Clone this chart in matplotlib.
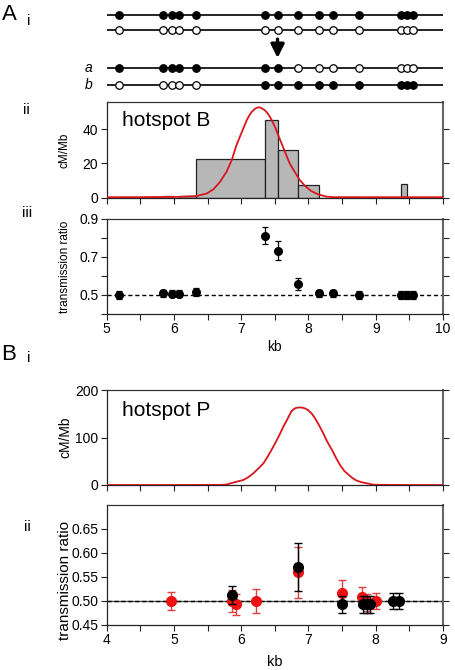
import numpy as np
import matplotlib
matplotlib.use("Agg")
import matplotlib.pyplot as plt
from matplotlib.ticker import MultipleLocator, NullFormatter

plt.rcParams['font.family'] = ['Liberation Sans', 'DejaVu Sans']

# ---------------- data ----------------
# SNP positions (kb) for hotspot B
snp_kb = [5.18, 5.83, 5.97, 6.07, 6.33, 7.36, 7.54, 7.84, 8.16, 8.36, 8.75, 9.38, 9.47, 9.55]
# strand haplotypes (1 = filled, 0 = open)
strand_top = [1] * 14
strand_bot = [0] * 14
strand_a = [1, 1, 1, 1, 1, 1, 1, 0, 0, 0, 0, 0, 0, 0]
strand_b = [0, 0, 0, 0, 0, 1, 1, 1, 1, 1, 1, 1, 1, 1]

# crossover density histogram between adjacent SNPs (cM/Mb)
hist_B = [0.5, 0.8, 0.0, 0.8, 22.3, 45.5, 27.7, 7.3, 0.0, 0.5, 0.0, 8.0, 0.0]

# fitted curve hotspot B
curveB_kb = [5.0, 5.5, 6.09, 6.34, 6.49, 6.59, 6.68, 6.78, 6.86, 6.93, 7.01, 7.08, 7.12, 7.155,
             7.20, 7.23, 7.26, 7.28, 7.31, 7.35, 7.39, 7.43, 7.50, 7.58, 7.65, 7.72, 7.80, 7.87,
             7.95, 8.04, 8.14, 8.27, 8.37, 9.0, 10.0]
curveB_val = [0.3, 0.3, 0.5, 1.0, 2.5, 5.0, 9.0, 15.0, 22.0, 30.7, 38.4, 45.0, 48.0, 50.0,
              51.7, 52.4, 52.7, 52.6, 52.0, 51.0, 49.3, 47.0, 41.4, 33.6, 26.8, 20.0, 14.8, 10.3,
              6.8, 3.9, 2.0, 0.6, 0.3, 0.3, 0.3]

# transmission ratio, hotspot B
trB = [0.50, 0.508, 0.507, 0.507, 0.515, 0.81, 0.733, 0.557, 0.508, 0.508, 0.50, 0.50, 0.50, 0.50]
trB_err = [0.02, 0.02, 0.02, 0.02, 0.02, 0.045, 0.048, 0.03, 0.02, 0.02, 0.02, 0.02, 0.02, 0.02]

# fitted curve hotspot P
curveP_kb = [4.0, 5.0, 5.70, 5.78, 5.88, 5.96, 6.03, 6.10, 6.18, 6.25, 6.33, 6.39, 6.45, 6.52,
             6.58, 6.63, 6.68, 6.72, 6.75, 6.79, 6.82, 6.87, 6.92, 6.96, 7.00, 7.05, 7.10, 7.16,
             7.22, 7.28, 7.35, 7.41, 7.47, 7.53, 7.60, 7.66, 7.72, 7.80, 7.87, 7.97, 8.5, 9.0]
curveP_val = [0, 0, 0.3, 1, 5, 8, 10.5, 16, 24.6, 34, 45.6, 59, 73.7, 92,
              108.8, 124, 136.8, 148, 155.8, 160.5, 162.5, 163.3, 162.5, 160.5, 157, 150, 140, 125,
              108.8, 91, 73.7, 57, 42, 30, 21, 14, 9, 5.5, 3.5, 0.5, 0, 0]

# transmission ratio, hotspot P (red and black series)
trP_red_kb = [4.96, 5.86, 5.92, 6.22, 6.84, 7.50, 7.79, 7.87, 8.00]
trP_red = [0.50, 0.50, 0.493, 0.50, 0.560, 0.516, 0.509, 0.497, 0.50]
trP_red_err = [0.018, 0.022, 0.022, 0.025, 0.053, 0.028, 0.02, 0.018, 0.016]
trP_blk_kb = [5.87, 6.84, 7.50, 7.81, 7.87, 7.91, 8.25, 8.35]
trP_blk = [0.5125, 0.571, 0.493, 0.493, 0.493, 0.493, 0.50, 0.50]
trP_blk_err = [0.019, 0.05, 0.018, 0.018, 0.018, 0.018, 0.016, 0.016]

# ---------------- layout ----------------
W, H = 456, 670
fig = plt.figure(figsize=(W / 100, H / 100), dpi=100)


def ax_px(left, top, right, bottom):
    return fig.add_axes([left / W, 1 - bottom / H, (right - left) / W, (bottom - top) / H])


L, R = 106.7, 443.0
RED = '#d8161b'


def style(ax):
    for s in ['left', 'bottom']:
        ax.spines[s].set_color('#222222')
        ax.spines[s].set_linewidth(0.9)
    ax.spines['top'].set_color('#333333')
    ax.spines['top'].set_linewidth(0.9)
    ax.spines['right'].set_color('#666666')
    ax.spines['right'].set_linewidth(1.5)
    ax.tick_params(axis='both', which='both', direction='out', length=4, width=0.8,
                   labelsize=10, pad=2, right=True, color='#222222')


# ----- A i: strand diagram -----
axd = ax_px(L, 5, R, 95)
axd.set_xlim(5, 10)
axd.set_ylim(95, 5)
axd.axis('off')
for yline, states in [(15, strand_top), (30, strand_bot), (68, strand_a), (85, strand_b)]:
    axd.plot([5, 10], [yline, yline], color='black', lw=1.2, zorder=1)
    for x, st in zip(snp_kb, states):
        axd.plot(x, yline, 'o', ms=5.4, mec='black', mew=0.9,
                 mfc='black' if st else 'white', zorder=3)
axd.annotate('', xy=(snp_kb[6], 58), xytext=(snp_kb[6], 39),
             arrowprops=dict(arrowstyle='-|>,head_width=0.4,head_length=0.8',
                             color='black', lw=2.4, shrinkA=0, shrinkB=0))

# ----- A ii: histogram + curve -----
ax1 = ax_px(L, 102, R, 197.7)
style(ax1)
lefts = snp_kb[:-1]
widths = np.diff(snp_kb)
ax1.bar(lefts, hist_B, width=widths, align='edge', color='#b7b7b7',
        edgecolor='#222222', linewidth=0.9, zorder=2)
ax1.plot(curveB_kb, curveB_val, color=RED, lw=1.3, zorder=3)
ax1.set_xlim(5, 10)
ax1.set_ylim(0, 55.8)
ax1.yaxis.set_major_locator(MultipleLocator(20))
ax1.xaxis.set_major_locator(MultipleLocator(1))
ax1.xaxis.set_minor_locator(MultipleLocator(0.5))
ax1.xaxis.set_major_formatter(NullFormatter())
ax1.set_ylabel('cM/Mb', fontsize=8.5)
ax1.yaxis.set_label_coords((71 - L) / (R - L), 0.5)
ax1.text(0.045, 0.81, 'hotspot B', transform=ax1.transAxes, fontsize=15,
         va='center', ha='left')

# ----- A iii: transmission ratio -----
ax2 = ax_px(L, 218.7, R, 314)
style(ax2)
ax2.axhline(0.5, color='black', lw=1.0, ls=(0, (3, 2)), zorder=1)
ax2.errorbar(snp_kb, trB, yerr=trB_err, fmt='o', ms=5.5, color='black',
             ecolor='black', elinewidth=0.9, capsize=2.5, capthick=0.9, zorder=3)
ax2.set_xlim(5, 10)
ax2.set_ylim(0.4, 0.9)
ax2.yaxis.set_minor_locator(MultipleLocator(0.1))
ax2.xaxis.set_major_locator(MultipleLocator(1))
ax2.xaxis.set_minor_locator(MultipleLocator(0.5))
ax2.set_yticks([0.5, 0.7, 0.9])
ax2.set_yticklabels(['0.5', '0.7', '0.9'])
ax2.set_ylabel('transmission ratio', fontsize=8.5)
ax2.yaxis.set_label_coords((71 - L) / (R - L), 0.5)
ax2.set_xlabel('kb', fontsize=10)
ax2.xaxis.set_label_coords(0.5, -0.27)

# ----- B i: curve -----
ax3 = ax_px(L, 390, R, 485)
style(ax3)
ax3.plot(curveP_kb, curveP_val, color=RED, lw=1.3, zorder=3)
ax3.set_xlim(4, 9)
ax3.set_ylim(0, 200)
ax3.yaxis.set_major_locator(MultipleLocator(100))
ax3.xaxis.set_major_locator(MultipleLocator(1))
ax3.xaxis.set_minor_locator(MultipleLocator(0.5))
ax3.xaxis.set_major_formatter(NullFormatter())
ax3.set_ylabel('cM/Mb', fontsize=10)
ax3.yaxis.set_label_coords((72 - L) / (R - L), 0.5)
ax3.text(0.045, 0.78, 'hotspot P', transform=ax3.transAxes, fontsize=15,
         va='center', ha='left')

# ----- B ii: transmission ratio -----
ax4 = ax_px(L, 505, R, 625)
style(ax4)
ax4.axhline(0.499, color='#555555', lw=1.0, zorder=1)
ax4.axhline(0.5, color='black', lw=1.0, ls=(0, (3, 2)), zorder=1)
ax4.errorbar(trP_red_kb, trP_red, yerr=trP_red_err, fmt='o', ms=7, color='#ee1111',
             ecolor='#e04040', elinewidth=1.0, capsize=3, capthick=1.0, zorder=3)
ax4.errorbar(trP_blk_kb, trP_blk, yerr=trP_blk_err, fmt='o', ms=7, color='black',
             ecolor='black', elinewidth=1.0, capsize=3, capthick=1.0, zorder=4)
ax4.set_xlim(4, 9)
ax4.set_ylim(0.45, 0.70)
ax4.set_yticks([0.45, 0.50, 0.55, 0.60, 0.65])
ax4.set_yticklabels(['0.45', '0.50', '0.55', '0.60', '0.65'])
ax4.xaxis.set_major_locator(MultipleLocator(1))
ax4.xaxis.set_minor_locator(MultipleLocator(0.5))
ax4.set_ylabel('transmission ratio', fontsize=11)
ax4.yaxis.set_label_coords((72 - L) / (R - L), 0.37)
ax4.set_xlabel('kb', fontsize=10.5)
ax4.xaxis.set_label_coords(0.5, -0.25)

# ----- panel labels -----
def ftext(x, y, s, size, **kw):
    fig.text(x / W, 1 - y / H, s, fontsize=size, ha='center', va='center', **kw)

ftext(9, 15, 'A', 16)
ftext(29, 21, 'i', 11)
ftext(89, 68, 'a', 10, style='italic')
ftext(89, 85, 'b', 10, style='italic')
ftext(26, 110, 'ii', 11)
ftext(27, 213, 'iii', 11)
ftext(9, 355, 'B', 16)
ftext(29, 358, 'i', 11)
ftext(27, 527, 'ii', 11)

fig.savefig('out.png', dpi=100)
